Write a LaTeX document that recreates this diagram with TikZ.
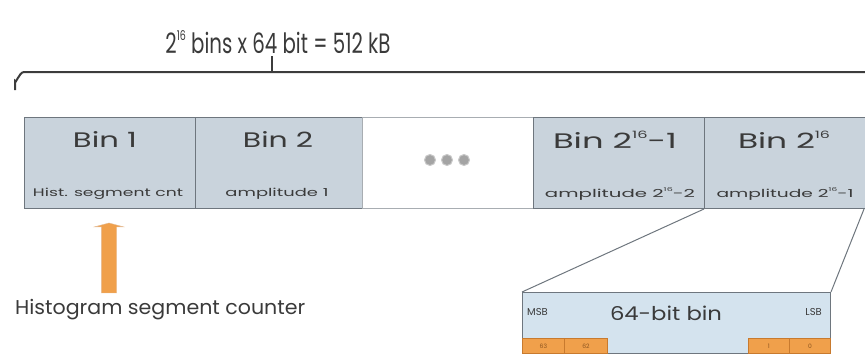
\documentclass[tikz,border=0pt]{standalone}
\usepackage{fontspec}
\setmainfont{Poppins}
\usetikzlibrary{shapes.arrows}

\definecolor{binfill}{HTML}{C9D3DC}
\definecolor{edgegray}{HTML}{6E767E}
\definecolor{bracegray}{HTML}{3C3C3C}
\definecolor{wordfill}{HTML}{D4E3EE}
\definecolor{orangefill}{HTML}{F0A04B}
\definecolor{orangeedge}{HTML}{C87A2E}
\definecolor{txt}{HTML}{3A3A3A}
\definecolor{dotgray}{HTML}{A4A4A4}

% set a label to a given width, keeping its height
\newcommand\fitw[2]{\resizebox{#1}{\height}{#2}}
% small raised exponent
\newcommand\pw[1]{\raisebox{0.85ex}{\scalebox{0.48}{#1}}}

\tikzset{
  binbox/.style={draw=edgegray, line width=1pt, fill=binfill, minimum height=91pt,
                 inner sep=0pt, anchor=north west},
  gapbox/.style={binbox, fill=white, draw=edgegray!60},
  bintitle/.style={font=\fontsize{21}{21}\selectfont, text=txt, inner sep=0pt},
  binsub/.style={font=\fontsize{11}{11}\selectfont, text=txt, inner sep=0pt},
  dotmark/.style={circle, fill=dotgray, draw=dotgray!60, line width=1pt,
                  minimum size=11pt, inner sep=0pt},
  wordbox/.style={draw=edgegray, line width=1pt, fill=wordfill, inner sep=0pt,
                  anchor=north west, minimum width=308pt, minimum height=61pt},
  bitcell/.style={draw=orangeedge, line width=0.8pt, fill=orangefill, inner sep=0pt,
                  anchor=north west, minimum height=15pt, minimum width=42pt,
                  font=\fontsize{6}{6}\selectfont, text=orangeedge!70!black},
  zoomline/.style={draw=edgegray, line width=1pt},
  bracepath/.style={draw=bracegray, line width=2pt},
  counterarrow/.style={single arrow, fill=orangefill, draw=orangeedge!50,
                       minimum height=70pt, inner sep=7.5pt,
                       single arrow head extend=7pt, single arrow tip angle=150,
                       shape border rotate=90}
}

\begin{document}
\begin{tikzpicture}[x=1pt, y=-1pt]
  \useasboundingbox (0,0) rectangle (865,356);

  % size of the whole table
  \node[font=\fontsize{28}{28}\selectfont, text=txt, inner sep=0pt] (title) at (278,42)
    {\fitw{225pt}{2\pw{16} bins x 64 bit = 512 kB}};

  % brace spanning all bins
  \coordinate (braceL) at (15,90);
  \coordinate (braceC) at (272,72);
  \coordinate (braceR) at (866,72);
  \coordinate (tickTop) at (272,56);
  \draw[bracepath] (braceL) -- (15,81) to[out=-90,in=180] (24,72) -- (braceR);
  \draw[bracepath] (tickTop) -- (braceC);

  % the bins
  \node[binbox, minimum width=171pt] (b1) at (24,117) {};
  \node[binbox, minimum width=167pt] (b2) at (195,117) {};
  \node[gapbox, minimum width=171pt] (gap) at (362,117) {};
  \node[binbox, minimum width=171pt] (b3) at (533,117) {};
  \node[binbox, minimum width=161pt] (b4) at (704,117) {};

  \node[bintitle] (t1) at (105,140) {\fitw{64pt}{Bin 1}};
  \node[binsub]   (s1) at (108,194) {\fitw{150pt}{Hist. segment cnt}};
  \node[bintitle] (t2) at (278,140) {\fitw{70pt}{Bin 2}};
  \node[binsub]   (s2) at (277,194) {\fitw{103pt}{amplitude 1}};
  \node[bintitle] (t3) at (615,140) {\fitw{124pt}{Bin 2\pw{16}-1}};
  \node[binsub]   (s3) at (620,194) {\fitw{150pt}{amplitude 2\pw{16}-2}};
  \node[bintitle] (t4) at (784,140) {\fitw{92pt}{Bin 2\pw{16}}};
  \node[binsub]   (s4) at (785,194) {\fitw{137pt}{amplitude 2\pw{16}-1}};

  \node[dotmark] (d1) at (430,160) {};
  \node[dotmark] (d2) at (447,160) {};
  \node[dotmark] (d3) at (464,160) {};

  % pointer to the first bin
  \node[counterarrow] (arrow) at (109,259) {};
  \node[font=\fontsize{20}{20}\selectfont, text=txt, inner sep=0pt, anchor=west]
    (counter) at (15,310) {\fitw{290pt}{Histogram segment counter}};

  % detail of a single bin
  \node[wordbox] (word) at (522,292) {};
  \node[font=\fontsize{19}{19}\selectfont, text=txt, inner sep=0pt] (wlabel) at (666,313)
    {\fitw{112pt}{64-bit bin}};
  \node[font=\fontsize{10}{10}\selectfont, text=txt, inner sep=0pt, anchor=west] (msb) at (527,312) {MSB};
  \node[font=\fontsize{10}{10}\selectfont, text=txt, inner sep=0pt, anchor=east] (lsb) at (822,312) {LSB};
  \node[bitcell] (c63) at (522,338) {63};
  \node[bitcell, minimum width=43pt] (c62) at (564,338) {62};
  \node[bitcell, minimum width=41pt] (c1) at (748,338) {1};
  \node[bitcell, minimum width=41pt] (c0) at (789,338) {0};

  \draw[zoomline] (b4.south west) -- (word.north west);
  \draw[zoomline] ([xshift=-2pt]b4.south east) -- (word.north east);
\end{tikzpicture}
\end{document}
